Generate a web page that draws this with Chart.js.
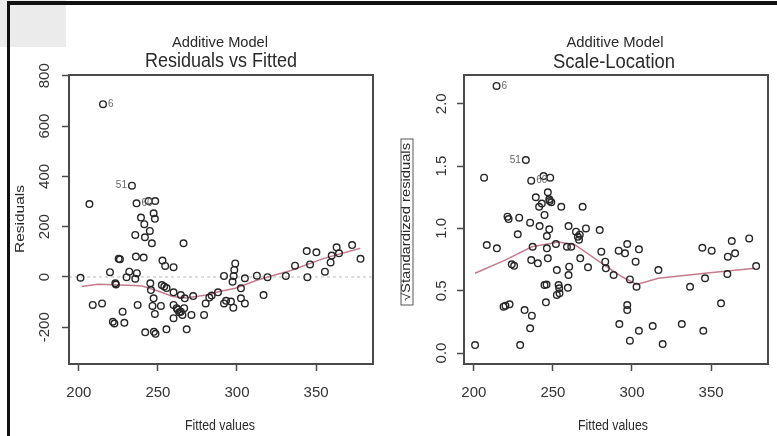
<!DOCTYPE html>
<html>
<head>
<meta charset="utf-8">
<script src="https://cdn.jsdelivr.net/npm/chart.js@4.4.1/dist/chart.umd.min.js"></script>
<style>
body { margin: 0; background: #fff; }
#wrap { position: relative; width: 777px; height: 436px; overflow: hidden; background: #fff; }
canvas { position: absolute; top: 0; }
#c1 { left: 0; }
#c2 { left: 388px; }
.grey { position: absolute; left: 0; top: 0; width: 66px; height: 47px; background: #ebebeb; }
.topline { position: absolute; left: 8px; top: 1px; width: 769px; height: 4px; background: #111; }
.leftline { position: absolute; left: 7px; top: 1px; width: 3px; height: 435px; background: #111; }
</style>
</head>
<body>
<div id="wrap">
  <div class="grey"></div>
  <canvas id="c1" width="388" height="436"></canvas>
  <canvas id="c2" width="389" height="436"></canvas>
  <div class="topline"></div>
  <div class="leftline"></div>
</div>
<script>
// Residuals vs Fitted (first three points are the labelled ones: 6, 51, 60)
const rvfFitted = [215.3, 233.6, 236.5, 244.1, 248.3, 206.7, 247.3, 248.1, 239.3, 241.4,
  244.9, 235.7, 241.8, 246.2, 266.2, 225.2, 226.0, 236.1, 241.0, 252.9,
  254.6, 259.9, 201.1, 219.7, 231.9, 236.7, 230.2, 235.7, 223.1, 223.5,
  245.2, 245.6, 252.5, 254.0, 255.5, 259.9, 264.5, 267.0, 272.3, 282.5,
  284.0, 288.0, 291.8, 208.8, 214.7, 237.2, 247.3, 246.6, 251.9, 259.9,
  261.9, 262.5, 263.5, 264.5, 265.5, 266.6, 227.7, 248.1, 259.9, 271.2,
  279.2, 280.2, 291.8, 221.5, 222.5, 228.8, 242.0, 247.5, 248.5, 255.4,
  268.2, 344.1, 350.2, 363.0, 364.5, 359.9, 372.8, 378.1, 359.2, 355.6,
  346.2, 336.7, 330.9, 344.5, 319.3, 312.6, 305.0, 298.9, 298.3, 297.9,
  297.2, 302.5, 316.8, 302.5, 305.0, 296.2, 297.7, 293.1]
const rvfResid = [687, 363, 293, 302, 302, 290, 253, 231, 236, 210,
  183, 167, 158, 134, 134, 72, 70, 81, 77, 65,
  44, 39, -3, 19, 21, 15, -1, -7, -25, -30,
  -25, -52, -32, -38, -44, -61, -72, -85, -76, -82,
  -74, -61, 4, -111, -105, -111, -85, -115, -115, -111,
  -124, -130, -140, -138, -151, -124, -138, -147, -164, -151,
  -151, -105, -105, -178, -185, -182, -220, -218, -226, -208,
  -208, 103, 98, 118, 94, 85, 127, 72, 58, 21,
  50, 45, 4, -1, -1, 5, -5, 54, 28, 4,
  -19, -45, -72, -85, -105, -98, -122, -95]
const rvfSmoothX = [201.7, 212, 235, 240, 251, 259.5, 268, 280.6, 289, 299, 313, 334, 355, 378]
const rvfSmoothY = [-38, -29, -34, -36, -58, -78, -84, -72, -58, -45, -12, 26, 74, 114]
const rvfTicks = [-200, 0, 200, 400, 600, 800]
const rvfTickLabels = ['-200', '0', '200', '400', '600', '800']

// Scale-Location
const slFitted = [214.4, 232.9, 236.3, 244.1, 248.3, 206.5, 246.8, 247.7, 249.0, 248.0,
  239.2, 243.0, 241.3, 255.3, 268.8, 244.7, 221.3, 222.0, 228.7, 235.6,
  241.6, 247.7, 246.2, 227.8, 259.9, 264.6, 265.8, 267.0, 266.5, 270.9,
  279.6, 208.2, 214.6, 237.2, 246.2, 251.9, 258.9, 261.6, 280.6, 291.6,
  236.3, 240.5, 246.8, 267.3, 224.0, 225.5, 252.5, 260.3, 272.2, 283.1,
  283.5, 288.4, 259.9, 244.7, 246.0, 253.6, 254.0, 259.5, 252.5, 254.2,
  245.6, 218.8, 220.0, 222.6, 232.1, 236.7, 235.6, 200.8, 229.3, 292.0,
  297.0, 295.6, 304.4, 302.3, 316.7, 298.7, 302.9, 297.0, 297.0, 304.4,
  298.7, 313.1, 319.4, 331.5, 336.7, 345.1, 344.5, 350.4, 346.2, 356.3,
  360.3, 360.6, 365.2, 363.1, 374.1, 378.5]
const slRoot = [2.143, 1.549, 1.383, 1.42, 1.407, 1.407, 1.29, 1.234, 1.21, 1.22,
  1.25, 1.2, 1.174, 1.174, 1.174, 1.108, 1.094, 1.075, 1.086, 1.046,
  1.019, 0.993, 0.939, 0.953, 1.019, 0.974, 0.933, 0.95, 0.91, 1.0,
  0.987, 0.867, 0.84, 0.853, 0.84, 0.875, 0.853, 0.853, 0.813, 0.821,
  0.746, 0.72, 0.76, 0.76, 0.712, 0.70, 0.666, 0.693, 0.688, 0.733,
  0.68, 0.626, 0.626, 0.546, 0.55, 0.546, 0.52, 0.524, 0.466, 0.479,
  0.407, 0.372, 0.38, 0.391, 0.345, 0.30, 0.198, 0.064, 0.064, 0.233,
  0.875, 0.80, 0.832, 0.733, 0.666, 0.591, 0.532, 0.385, 0.345, 0.179,
  0.099, 0.217, 0.072, 0.233, 0.532, 0.179, 0.845, 0.821, 0.60, 0.399,
  0.634, 0.773, 0.80, 0.899, 0.92, 0.698]
const slSmoothX = [200.8, 219.8, 236.7, 253.6, 264.1, 281, 293.7, 303, 316.7, 346.2, 377.8]
const slSmoothY = [0.64, 0.746, 0.853, 0.89, 0.867, 0.72, 0.612, 0.55, 0.6, 0.64, 0.68]
const slTicks = [0, 0.5, 1, 1.5, 2]
const slTickLabels = ['0.0', '0.5', '1.0', '1.5', '2.0']

const xTicks = [200, 250, 300, 350]
const idLabels = ['6', '51', '60']
const idSide = ['right', 'left', 'right']

const FONT = '"Liberation Sans Narrow", "Liberation Sans", Arial, sans-serif'
Chart.defaults.font.family = FONT
Chart.defaults.color = '#333'

// draw text centred at (x, y), optionally squeezed to a width and turned upright
function fitText(ctx, str, x, y, size, w, upright) {
  ctx.save()
  ctx.font = size + 'px ' + FONT
  ctx.translate(x, y)
  if (upright) ctx.rotate(-Math.PI / 2)
  if (w) ctx.scale(w / ctx.measureText(str).width, 1)
  ctx.textAlign = 'center'
  ctx.textBaseline = 'middle'
  ctx.fillText(str, 0, 0)
  ctx.restore()
}

function rPlot(yTicks, yLabels, yLabelX, texts, boxRect) {
  return {
    id: 'rPlot',
    afterDraw(chart) {
      const ctx = chart.ctx, a = chart.chartArea
      const xs = chart.scales.x, ys = chart.scales.y
      ctx.save()
      ctx.strokeStyle = '#4a4a4a'
      ctx.lineWidth = 2
      ctx.strokeRect(a.left, a.top, a.right - a.left, a.bottom - a.top)
      ctx.fillStyle = '#333'
      yTicks.forEach((v, i) => fitText(ctx, yLabels[i], yLabelX, ys.getPixelForValue(v), 15, null, true))
      ctx.fillStyle = '#2a2a2a'
      texts.forEach(t => fitText(ctx, t[0], t[1], t[2], t[3], t[4], t[5]))
      if (boxRect) {
        ctx.strokeStyle = '#555'
        ctx.lineWidth = 1
        ctx.strokeRect(boxRect[0], boxRect[1], boxRect[2], boxRect[3])
      }
      // identify the three largest residuals
      const pts = chart.data.datasets[0].data
      ctx.fillStyle = '#666'
      ctx.font = '10px ' + FONT
      ctx.textBaseline = 'middle'
      idLabels.forEach((id, i) => {
        const px = xs.getPixelForValue(pts[i].x), py = ys.getPixelForValue(pts[i].y)
        const left = idSide[i] === 'left'
        ctx.textAlign = left ? 'right' : 'left'
        ctx.fillText(id, px + (left ? -5 : 5), py)
      })
      ctx.restore()
    }
  }
}

function axisOpts(extra) {
  return Object.assign({
    type: 'linear',
    grid: { drawOnChartArea: false, drawTicks: true, tickLength: 7, tickColor: '#4a4a4a', tickWidth: 1.5 },
    border: { display: true, color: '#4a4a4a', width: 2 }
  }, extra)
}

function makeChart(el, fx, fy, sx, sy, zero, yMin, yMax, yTicks, yLabels, yW, padRight, yLabelX, texts, boxRect) {
  const datasets = [{
    data: fx.map((x, i) => ({ x: x, y: fy[i] })),
    pointRadius: 3.3,
    pointBorderWidth: 1.4,
    pointBorderColor: '#262626',
    pointBackgroundColor: 'rgba(0,0,0,0)',
    showLine: false,
    order: 0
  }, {
    data: sx.map((x, i) => ({ x: x, y: sy[i] })),
    showLine: true,
    borderColor: '#c57b8e',
    borderWidth: 1.5,
    pointRadius: 0,
    order: 1
  }]
  if (zero) {
    datasets.push({
      data: [{ x: 193.8, y: 0 }, { x: 386, y: 0 }],
      showLine: true,
      borderColor: '#bbbbbb',
      borderWidth: 1,
      borderDash: [3, 3],
      pointRadius: 0,
      order: 2
    })
  }
  return new Chart(el, {
    type: 'scatter',
    data: { datasets: datasets },
    options: {
      responsive: false,
      animation: false,
      events: [],
      layout: { padding: { left: 0, top: 75, right: padRight, bottom: 0 } },
      plugins: { legend: { display: false }, tooltip: { enabled: false } },
      scales: {
        x: axisOpts({
          min: 193.8, max: 386,
          afterBuildTicks: s => { s.ticks = xTicks.map(v => ({ value: v })) },
          afterFit: s => { s.height = 72 },
          ticks: { color: '#333', font: { size: 15 }, padding: 13, maxRotation: 0, callback: v => String(v) }
        }),
        y: axisOpts({
          min: yMin, max: yMax,
          afterBuildTicks: s => { s.ticks = yTicks.map(v => ({ value: v })) },
          afterFit: s => { s.width = yW },
          ticks: { display: false }
        })
      }
    },
    plugins: [rPlot(yTicks, yLabels, yLabelX, texts, boxRect)]
  })
}

makeChart(document.getElementById('c1'), rvfFitted, rvfResid, rvfSmoothX, rvfSmoothY, true,
  -346, 803, rvfTicks, rvfTickLabels, 69, 15, 45, [
    ['Additive Model', 220, 43, 15, 96, false],
    ['Residuals vs Fitted', 221, 61, 20, 152, false],
    ['Fitted values', 220, 426, 14, 70, false],
    ['Residuals', 20, 219, 13, 68, true]
  ], null)

makeChart(document.getElementById('c2'), slFitted, slRoot, slSmoothX, slSmoothY, false,
  -0.088, 2.231, slTicks, slTickLabels, 76, 9, 54, [
    ['Additive Model', 227, 43, 15, 97, false],
    ['Scale-Location', 226, 62, 20, 122, false],
    ['Fitted values', 225, 426, 14, 70, false],
    ['\u221AStandardized residuals', 19, 222, 12, 158, true]
  ], [13, 139, 12, 166])
</script>
</body>
</html>
